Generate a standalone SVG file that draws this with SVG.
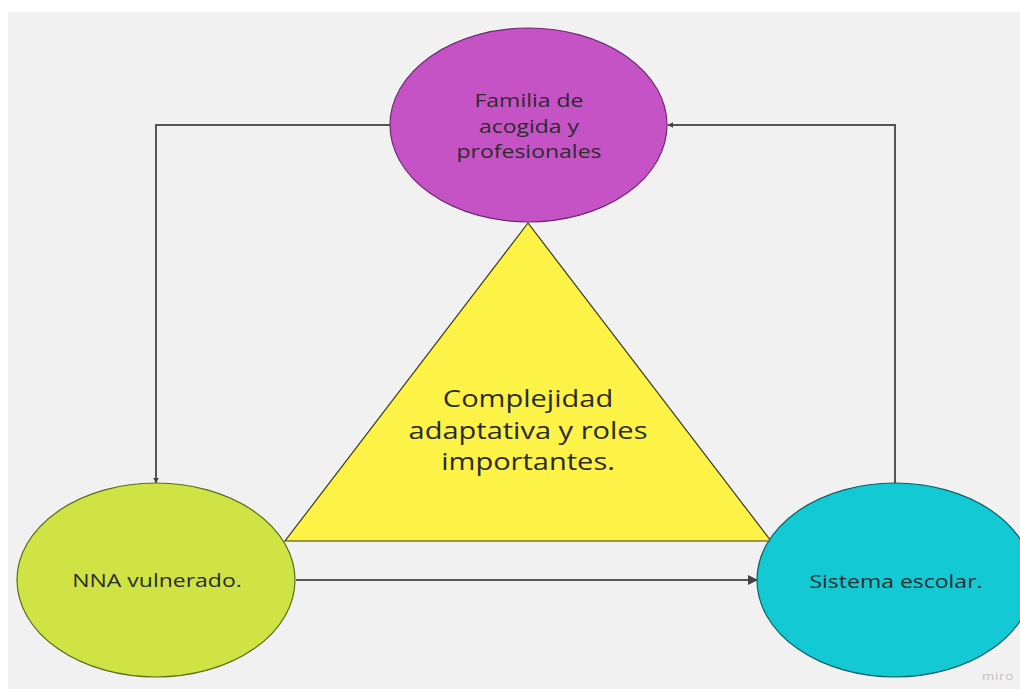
<svg xmlns="http://www.w3.org/2000/svg" width="1020" height="689" viewBox="0 0 1020 689">
<defs>
<style>
.node{stroke-width:1.2}
.lbl{font-family:"Open Sans","Liberation Sans",sans-serif;fill:#2b2b2b;text-anchor:middle}
.sm{font-size:19px}
.big{font-size:24px}
.conn{fill:none;stroke:#555555;stroke-width:2}
</style>
<marker id="arr" viewBox="0 0 10 10" refX="9" refY="5" markerWidth="6" markerHeight="6" orient="auto" markerUnits="userSpaceOnUse">
<path d="M0,0 L10,5 L0,10 z" fill="#444444"/>
</marker>
<marker id="arrL" viewBox="0 0 10 10" refX="9" refY="5" markerWidth="10" markerHeight="10" orient="auto" markerUnits="userSpaceOnUse">
<path d="M0,0 L10,5 L0,10 z" fill="#444444"/>
</marker>
</defs>
<rect x="0" y="0" width="1020" height="689" fill="#ffffff"/>
<rect x="8" y="12" width="1012" height="677" fill="#f1f1f1"/>
<g id="connectors">
<path class="conn" d="M390,125 H156 V483" marker-end="url(#arr)"/>
<path class="conn" d="M895,483 V125 H668" marker-end="url(#arr)"/>
<path class="conn" d="M296,580 H757" marker-end="url(#arrL)"/>
</g>
<g id="triangle">
<polygon class="node" points="528,223 285,541 771,541" fill="#fdf246" stroke="#3a3a1a" stroke-width="1.5"/>
<g transform="translate(528 0) scale(1.21 1)">
<text class="lbl big"><tspan x="0" y="407">Complejidad</tspan><tspan x="0" y="439">adaptativa y roles</tspan><tspan x="0" y="470">importantes.</tspan></text>
</g>
</g>
<g id="familia">
<ellipse class="node" cx="528.5" cy="125" rx="138.5" ry="97" fill="#c653c6" stroke="#6e2a70"/>
<g transform="translate(529 0) scale(1.21 1)">
<text class="lbl sm"><tspan x="0" y="107">Familia de</tspan><tspan x="0" y="133">acogida y</tspan><tspan x="0" y="158">profesionales</tspan></text>
</g>
</g>
<g id="nna">
<ellipse class="node" cx="156" cy="580" rx="139" ry="97" fill="#cfe444" stroke="#5d6a1a"/>
<g transform="translate(157 0) scale(1.21 1)">
<text class="lbl sm" x="0" y="587">NNA vulnerado.</text>
</g>
</g>
<g id="sistema">
<ellipse class="node" cx="895" cy="580" rx="138" ry="97" fill="#12c9d4" stroke="#0f5f66"/>
<g transform="translate(896 0) scale(1.21 1)">
<text class="lbl sm" x="0" y="588">Sistema escolar.</text>
</g>
</g>
<g transform="translate(998 0) scale(1.21 1)">
<text x="0" y="680" font-family="Open Sans, Liberation Sans, sans-serif" font-size="11" fill="#c0c0c0" letter-spacing="0.6" text-anchor="middle">miro</text>
</g>
</svg>
